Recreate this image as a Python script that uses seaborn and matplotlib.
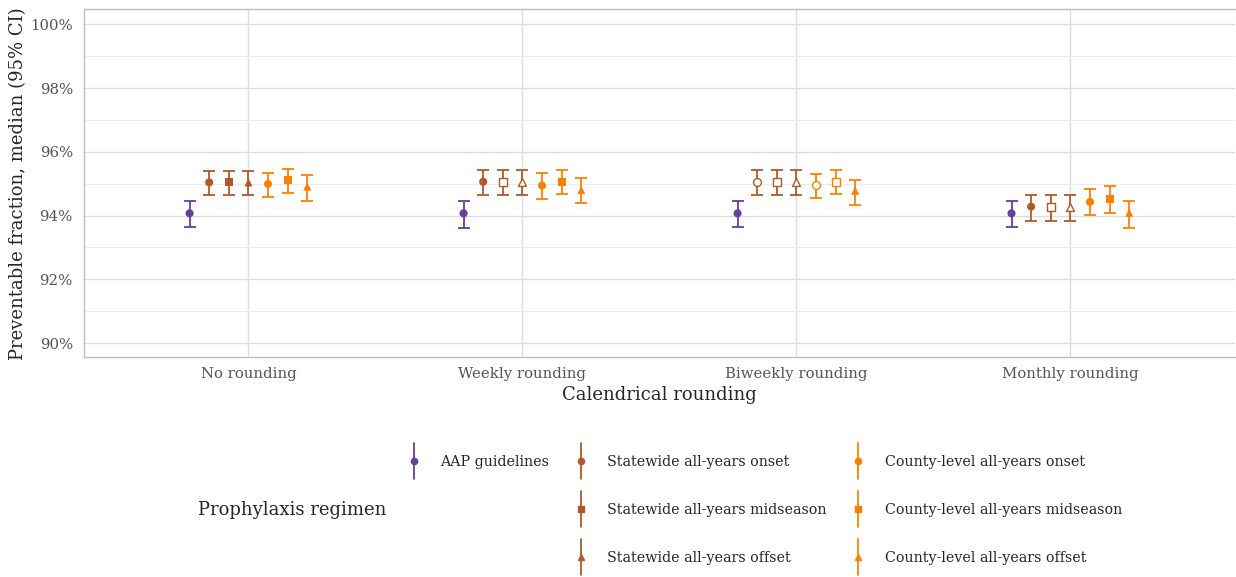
import numpy as np
import pandas as pd
import matplotlib
matplotlib.use('Agg')
import matplotlib.pyplot as plt
import seaborn as sns
from matplotlib.lines import Line2D
from matplotlib.patches import Rectangle
from matplotlib.legend_handler import HandlerBase
from matplotlib.ticker import FuncFormatter, MultipleLocator

# --- Data (percent) ---
roundings = ['No rounding', 'Weekly rounding', 'Biweekly rounding', 'Monthly rounding']
regimens = ['AAP guidelines',
            'Statewide all-years onset', 'Statewide all-years midseason', 'Statewide all-years offset',
            'County-level all-years onset', 'County-level all-years midseason', 'County-level all-years offset']

median_none = [94.07, 95.04, 95.04, 95.04, 94.99, 95.12, 94.91]
lower_none = [93.65, 94.64, 94.64, 94.64, 94.57, 94.71, 94.47]
upper_none = [94.47, 95.41, 95.41, 95.41, 95.35, 95.46, 95.26]

median_weekly = [94.07, 95.06, 95.06, 95.06, 94.94, 95.06, 94.80]
lower_weekly = [93.62, 94.65, 94.65, 94.65, 94.52, 94.68, 94.38]
upper_weekly = [94.47, 95.43, 95.43, 95.43, 95.32, 95.43, 95.17]

median_biweekly = [94.07, 95.06, 95.06, 95.06, 94.95, 95.06, 94.78]
lower_biweekly = [93.63, 94.65, 94.65, 94.65, 94.54, 94.68, 94.33]
upper_biweekly = [94.47, 95.43, 95.43, 95.43, 95.30, 95.43, 95.12]

median_monthly = [94.07, 94.28, 94.28, 94.28, 94.43, 94.52, 94.09]
lower_monthly = [93.63, 93.83, 93.83, 93.83, 94.03, 94.09, 93.62]
upper_monthly = [94.46, 94.66, 94.66, 94.66, 94.82, 94.92, 94.47]

# filled marker = differs from the previous result, hollow = unchanged
filled_none = [True, True, True, True, True, True, True]
filled_weekly = [True, True, False, False, True, True, True]
filled_biweekly = [True, False, False, False, False, False, True]
filled_monthly = [True, True, False, False, True, True, True]

colors = ['#6a3d9a', '#b15928', '#b15928', '#b15928', '#ff7f00', '#ff7f00', '#ff7f00']
markers = ['o', 'o', 's', '^', 'o', 's', '^']
palette = dict(zip(regimens, colors))
marker_map = dict(zip(regimens, markers))

medians = [median_none, median_weekly, median_biweekly, median_monthly]
lowers = [lower_none, lower_weekly, lower_biweekly, lower_monthly]
uppers = [upper_none, upper_weekly, upper_biweekly, upper_monthly]
fills = [filled_none, filled_weekly, filled_biweekly, filled_monthly]

dodge = 0.0716
rows = []
for r_i, rname in enumerate(roundings):
    for g_i, reg in enumerate(regimens):
        rows.append(dict(rounding=rname, regimen=reg, median=medians[r_i][g_i],
                         lower=lowers[r_i][g_i], upper=uppers[r_i][g_i],
                         filled=fills[r_i][g_i], x=r_i + (g_i - 3) * dodge))
df = pd.DataFrame(rows)

# --- Style ---
sns.set_style('whitegrid')
plt.rcParams['font.family'] = ['DejaVu Serif']

fig, ax = plt.subplots(figsize=(12.36, 5.77), dpi=100)
fig.subplots_adjust(left=0.068, right=0.999, top=0.984, bottom=0.381)

# error bars
for reg in regimens:
    sub = df[df.regimen == reg]
    ax.errorbar(sub['x'], sub['median'],
                yerr=[sub['median'] - sub['lower'], sub['upper'] - sub['median']],
                fmt='none', ecolor=palette[reg], elinewidth=1.3, capsize=4, capthick=1.3, zorder=2)

# filled points
sns.scatterplot(data=df[df.filled], x='x', y='median', hue='regimen', style='regimen',
                hue_order=regimens, style_order=regimens, palette=palette, markers=marker_map,
                s=34, linewidth=0, legend=False, ax=ax, zorder=3)

# hollow points
hollow = df[~df.filled]
for reg in regimens:
    sub = hollow[hollow.regimen == reg]
    if len(sub):
        ax.scatter(sub['x'], sub['median'], marker=marker_map[reg], s=32,
                   facecolors='white', edgecolors=palette[reg], linewidths=1.0, zorder=3)

# axes
ax.set_xlim(-0.6, 3.6)
ax.set_xticks(range(len(roundings)))
ax.set_xticklabels(roundings)
ax.set_ylim(89.56, 100.47)
ax.yaxis.set_major_locator(MultipleLocator(2))
ax.yaxis.set_minor_locator(MultipleLocator(1))
ax.yaxis.set_major_formatter(FuncFormatter(lambda v, p: f'{v:.0f}%'))
ax.grid(True, which='major', color='#dedede', lw=1.0)
ax.grid(True, which='minor', axis='y', color='#ebebeb', lw=0.7)
ax.tick_params(axis='both', which='both', length=0, labelsize=10.7, labelcolor='#555555')
ax.tick_params(axis='x', pad=7)
ax.tick_params(axis='y', pad=8)
for s in ['left', 'top', 'bottom']:
    ax.spines[s].set_color('#bdbdbd')
    ax.spines[s].set_linewidth(1.0)
ax.spines['right'].set_visible(False)
ax.set_xlabel('Calendrical rounding', fontsize=13, labelpad=4)
ax.set_ylabel('Preventable fraction, median (95% CI)', fontsize=13, labelpad=2)


# legend: vertical line through marker
class VBarHandler(HandlerBase):
    def create_artists(self, legend, orig_handle, xdescent, ydescent, width, height, fontsize, trans):
        cx = width / 2 - xdescent
        cy = height / 2 - ydescent
        line = Line2D([cx, cx], [cy - 13, cy + 13], color=orig_handle.get_color(), lw=1.3)
        mk = Line2D([cx], [cy], marker=orig_handle.get_marker(), color=orig_handle.get_color(),
                    markersize=4.5, linestyle='none')
        line.set_transform(trans)
        mk.set_transform(trans)
        return [line, mk]


handles = [Line2D([], [], color=c, marker=m) for c, m in zip(colors, markers)]
blank = Rectangle((0, 0), 1, 1, visible=False)
leg_handles = [handles[0], blank, blank] + handles[1:]
leg_labels = [regimens[0], '', ''] + regimens[1:]
fig.legend(leg_handles, leg_labels, ncol=3, loc='center left', bbox_to_anchor=(0.328, 0.116),
           frameon=False, fontsize=10.3, handlelength=1.2, handletextpad=1.25, columnspacing=1.6,
           labelspacing=2.35, borderaxespad=0, borderpad=0, handler_map={Line2D: VBarHandler()})
fig.text(198 / 1236, 0.116, 'Prophylaxis regimen', fontsize=13, va='center', ha='left')

plt.savefig('out.png', dpi=100)
